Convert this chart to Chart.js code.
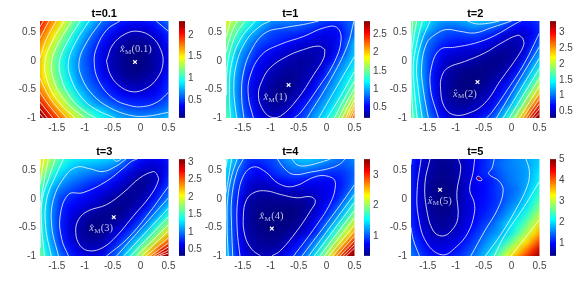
<!DOCTYPE html>
<html><head><meta charset="utf-8">
<script src="https://cdn.jsdelivr.net/npm/chart.js@4"></script>
<style>html,body{margin:0;padding:0;background:#fff;width:580px;height:288px;overflow:hidden;position:relative}canvas{position:absolute}</style>
</head><body>
<script>
const xCells=[-1.85,-1.7,-1.55,-1.4,-1.25,-1.1,-.95,-.8,-.65,-.5,-.35,-.2,-.05,.1,.25,.4,.55];
const yCells=[.75,.6,.45,.3,.15,0,-.15,-.3,-.45,-.6,-.75,-.9,-1.05];
const xTickVals=[-1.5,-1,-.5,0,.5];
const yTickVals=[-1,-.5,0,.5];
const titles=['t=0.1','t=1','t=2','t=3','t=4','t=5'];
const cbarMin=[.09,.22,.30,.32,.33,.39];
const cbarMax=[2.32,2.86,3.35,3.09,3.54,5.03];
const cbarTicks=[[.5,1,1.5,2],[.5,1,1.5,2,2.5],[.5,1,1.5,2,2.5,3],[.5,1,1.5,2,2.5,3],[1,2,3],[1,2,3,4,5]];
const markX=[-.1,-.68,-.61,-.48,-.98,-1.28];
const markY=[-.02,-.42,-.37,-.32,-.52,.16];
const labelText=['(0.1)','(1)','(2)','(3)','(4)','(5)'];
const labelX=[-.37,-1.13,-1.05,-.92,-1.2,-1.5];
const labelY=[.2,-.64,-.58,-.52,-.31,-.04];
const spotX=[-.58], spotY=[.36];

const z01=[
[2.2,1.95,1.75,1.52,1.3,1.1,.92,.77,.63,.54,.47,.43,.41,.43,.47,.57,.7],
[2.05,1.85,1.62,1.4,1.18,.98,.8,.65,.53,.45,.37,.33,.31,.33,.38,.47,.6],
[1.9,1.72,1.5,1.27,1.05,.85,.68,.55,.43,.33,.26,.2,.19,.21,.27,.36,.48],
[1.8,1.6,1.37,1.14,.95,.76,.6,.47,.35,.26,.19,.14,.13,.15,.2,.3,.42],
[1.72,1.5,1.26,1.05,.85,.69,.55,.43,.31,.22,.15,.11,.1,.12,.17,.26,.38],
[1.68,1.43,1.19,.98,.8,.65,.53,.42,.3,.21,.15,.1,.09,.12,.17,.25,.38],
[1.68,1.45,1.2,1.0,.82,.65,.55,.43,.31,.21,.15,.11,.1,.12,.17,.27,.4],
[1.7,1.48,1.23,1.03,.85,.68,.57,.47,.35,.26,.18,.14,.14,.17,.22,.32,.45],
[1.8,1.58,1.35,1.1,.93,.75,.63,.53,.45,.36,.28,.22,.21,.23,.28,.38,.5],
[1.95,1.72,1.48,1.28,1.08,.87,.72,.6,.5,.44,.38,.33,.31,.32,.36,.43,.52],
[2.15,1.9,1.65,1.42,1.2,1.0,.82,.7,.63,.55,.5,.45,.44,.44,.46,.52,.6],
[2.35,2.12,1.84,1.62,1.4,1.22,1.07,.94,.83,.73,.66,.61,.59,.59,.6,.65,.72],
[2.5,2.25,2.05,1.85,1.6,1.38,1.2,1.07,.95,.86,.78,.73,.72,.73,.74,.78,.85]];
const z1=[
[1.95,1.75,1.55,1.38,1.22,1.08,1.0,.96,.94,.9,.86,.82,.78,.74,.74,.78,.86],
[1.8,1.62,1.43,1.25,1.06,.93,.8,.78,.8,.78,.74,.69,.61,.58,.62,.76,.88],
[1.62,1.5,1.3,1.04,.93,.77,.7,.67,.64,.62,.57,.52,.49,.49,.56,.72,.92],
[1.55,1.38,1.14,.93,.75,.69,.64,.59,.53,.47,.44,.41,.41,.46,.6,.83,1.15],
[1.5,1.3,.98,.83,.68,.58,.51,.46,.4,.38,.35,.34,.39,.47,.62,.9,1.12],
[1.45,1.2,.92,.77,.58,.5,.44,.38,.34,.31,.31,.33,.41,.55,.83,1.0,1.17],
[1.45,1.17,.89,.66,.53,.45,.38,.33,.3,.3,.33,.38,.5,.77,.92,1.09,1.3],
[1.45,1.12,.85,.61,.5,.4,.33,.28,.26,.29,.35,.45,.6,.85,1.02,1.2,1.4],
[1.45,1.1,.83,.59,.46,.36,.29,.25,.25,.31,.42,.53,.78,.93,1.1,1.3,1.55],
[1.45,1.1,.83,.6,.43,.33,.27,.24,.28,.38,.5,.63,.85,1.02,1.16,1.42,1.72],
[1.5,1.13,.85,.64,.46,.34,.28,.28,.36,.5,.6,.81,.97,1.1,1.35,1.6,1.95],
[1.55,1.17,.88,.68,.52,.4,.34,.37,.47,.58,.74,.91,1.05,1.2,1.45,1.85,2.35],
[1.62,1.25,.95,.74,.58,.47,.43,.46,.55,.67,.83,1.0,1.15,1.4,1.7,2.2,2.7]];
const z2=[
[2.0,1.75,1.55,1.3,1.22,1.2,1.23,1.28,1.35,1.38,1.35,1.28,1.08,.87,.78,.8,.92],
[1.85,1.62,1.42,1.17,1.04,1.0,1.02,1.08,1.13,1.07,1.0,.9,.78,.68,.68,.73,.85],
[1.72,1.52,1.15,1.02,.93,.87,.85,.87,.87,.82,.75,.62,.53,.5,.52,.68,.85],
[1.68,1.48,1.07,.93,.79,.73,.71,.7,.74,.65,.56,.5,.43,.44,.55,.75,1.1],
[1.65,1.43,1.02,.85,.69,.6,.56,.53,.5,.49,.42,.38,.38,.42,.6,.92,1.2],
[1.65,1.4,1.03,.78,.59,.5,.47,.48,.41,.37,.34,.34,.38,.5,.75,1.1,1.38],
[1.65,1.4,1.04,.72,.55,.44,.38,.34,.33,.32,.34,.38,.48,.68,.97,1.3,1.6],
[1.65,1.41,1.05,.7,.51,.4,.34,.31,.31,.33,.38,.47,.58,.82,1.15,1.5,1.9],
[1.7,1.43,1.07,.71,.48,.38,.32,.3,.32,.37,.45,.6,.74,1.05,1.38,1.75,2.2],
[1.7,1.45,1.08,.72,.49,.38,.33,.32,.35,.43,.55,.7,.88,1.25,1.65,2.1,2.55],
[1.75,1.48,1.1,.77,.56,.43,.38,.38,.44,.52,.62,.82,1.08,1.42,1.9,2.5,3.0],
[1.8,1.52,1.15,.84,.63,.5,.46,.48,.55,.62,.75,1.05,1.38,1.8,2.3,2.95,3.55],
[1.9,1.6,1.25,.95,.73,.6,.57,.6,.68,.82,1.0,1.3,1.65,2.1,2.7,3.3,3.8]];
const z3=[
[2.25,2.0,1.75,1.55,1.42,1.38,1.36,1.33,1.3,1.27,1.2,.92,.78,.68,.65,.68,.78],
[2.1,1.9,1.62,1.42,1.28,1.2,1.18,1.17,1.13,1.1,.95,.78,.65,.57,.55,.6,.72],
[1.95,1.72,1.42,1.25,1.13,1.07,1.02,.98,.95,.85,.7,.58,.5,.46,.48,.58,.76],
[1.78,1.52,1.25,1.1,1.0,.93,.86,.8,.76,.66,.57,.47,.4,.38,.47,.62,.85],
[1.65,1.35,1.08,.95,.86,.8,.73,.66,.6,.53,.47,.4,.37,.42,.58,.75,.95],
[1.62,1.28,1.0,.82,.74,.68,.63,.57,.49,.42,.38,.37,.42,.5,.7,.87,1.1],
[1.6,1.27,.98,.75,.67,.6,.53,.47,.42,.38,.36,.4,.47,.63,.85,1.08,1.3],
[1.6,1.27,.97,.73,.6,.5,.42,.37,.36,.36,.37,.47,.65,.83,1.03,1.3,1.55],
[1.6,1.27,.97,.72,.55,.46,.37,.35,.36,.41,.47,.6,.8,1.0,1.3,1.57,1.85],
[1.62,1.28,.98,.72,.56,.43,.37,.36,.39,.5,.65,.8,1.0,1.25,1.56,1.88,2.2],
[1.68,1.32,1.02,.74,.6,.47,.42,.42,.46,.6,.79,1.0,1.27,1.56,1.88,2.25,2.6],
[1.75,1.38,1.1,.85,.69,.58,.51,.5,.55,.78,.98,1.25,1.55,1.93,2.3,2.75,3.1],
[1.85,1.5,1.2,.97,.78,.66,.6,.6,.7,.88,1.1,1.4,1.75,2.15,2.6,3.05,3.4]];
const z4=[
[1.8,1.45,1.15,.95,.92,.93,.97,1.18,1.28,1.38,1.42,1.38,1.32,1.22,1.12,1.1,1.2],
[1.6,1.35,1.1,.83,.78,.85,.93,1.03,1.15,1.23,1.27,1.2,1.13,1.06,1.0,1.05,1.15],
[1.5,1.2,.95,.8,.7,.73,.85,.92,.98,1.0,.98,.92,.88,.85,.87,.95,1.07],
[1.45,1.12,.87,.65,.57,.58,.65,.74,.77,.77,.73,.7,.7,.72,.8,.93,1.15],
[1.42,1.05,.8,.57,.49,.49,.52,.55,.55,.55,.58,.6,.65,.7,.82,.98,1.3],
[1.42,1.0,.72,.49,.42,.4,.41,.42,.42,.42,.45,.52,.62,.74,.88,1.18,1.55],
[1.42,1.0,.7,.45,.38,.36,.35,.35,.35,.36,.42,.55,.7,.85,1.1,1.43,1.85],
[1.42,1.0,.69,.44,.37,.34,.33,.33,.33,.36,.45,.62,.78,1.02,1.3,1.67,2.1],
[1.42,1.0,.69,.44,.37,.34,.33,.33,.36,.42,.55,.73,.97,1.25,1.62,2.0,2.4],
[1.42,1.0,.7,.46,.39,.35,.35,.36,.42,.5,.65,.82,1.13,1.52,1.92,2.3,2.8],
[1.42,1.02,.72,.5,.42,.39,.38,.43,.55,.71,.87,1.1,1.45,1.83,2.25,2.72,3.25],
[1.45,1.05,.73,.55,.47,.45,.47,.55,.73,.83,1.02,1.35,1.72,2.17,2.68,3.2,3.7],
[1.5,1.1,.8,.62,.55,.53,.58,.68,.85,1.0,1.2,1.55,1.95,2.45,3.0,3.5,4.0]];
const z5=[
[1.3,.95,.72,.55,.48,.52,.62,.76,.92,1.08,1.22,1.37,1.5,1.6,1.7,1.82,1.9],
[1.25,.92,.7,.55,.47,.5,.6,.75,.9,1.1,1.32,1.45,1.55,1.62,1.68,1.82,2.0],
[1.2,.88,.67,.52,.45,.48,.58,.73,.93,1.15,1.2,1.38,1.5,1.58,1.66,1.87,2.15],
[1.2,.87,.6,.49,.43,.45,.56,.73,.95,1.0,1.08,1.3,1.47,1.57,1.68,1.92,2.25],
[1.2,.87,.59,.47,.41,.43,.55,.78,.85,.97,1.12,1.27,1.4,1.5,1.72,2.05,2.4],
[1.2,.87,.6,.47,.41,.43,.58,.75,.92,1.0,1.1,1.25,1.42,1.58,1.87,2.2,2.6],
[1.22,.9,.62,.49,.42,.45,.62,.76,.92,1.03,1.15,1.3,1.55,1.75,2.02,2.4,2.85],
[1.25,.92,.66,.52,.45,.49,.62,.78,.9,1.1,1.22,1.45,1.72,1.98,2.25,2.7,3.1],
[1.3,.98,.71,.56,.5,.55,.68,.85,1.0,1.22,1.4,1.68,1.95,2.2,2.55,3.0,3.45],
[1.35,1.03,.78,.63,.6,.65,.75,.93,1.15,1.35,1.58,1.7,2.0,2.4,2.85,3.35,3.85],
[1.45,1.15,.92,.77,.72,.78,.88,1.08,1.28,1.5,1.75,2.0,2.4,2.85,3.3,3.8,4.3],
[1.55,1.28,1.05,.92,.87,.93,1.05,1.22,1.42,1.67,1.92,2.4,2.9,3.35,3.8,4.3,4.85],
[1.7,1.42,1.18,1.05,1.0,1.07,1.2,1.37,1.58,1.85,2.3,2.8,3.3,3.8,4.3,4.85,5.4]];

const lines01=[
[[-.61,0],[-.5,.28],[-.28,.47],[-.05,.52],[.2,.42],[.36,.2],[.4,-.05],[.3,-.3],[.1,-.48],[-.15,-.54],[-.4,-.42],[-.55,-.22],[-.61,0]],
[[-.37,.7],[-.6,.55],[-.78,.25],[-.83,-.02],[-.75,-.35],[-.5,-.65],[-.2,-.78],[.05,-.8],[.3,-.72],[.5,-.55]],
[[.28,.7],[.5,.52]],
[[-.7,.7],[-.95,.35],[-1.1,0],[-1.05,-.3],[-.85,-.6],[-.55,-.82],[-.2,-.95],[.1,-.97],[.5,-.9]],
[[-.92,.7],[-1.15,.35],[-1.29,0],[-1.25,-.3],[-1.05,-.65],[-.8,-.85],[-.46,-1]],
[[-1.08,.7],[-1.3,.35],[-1.45,0],[-1.42,-.3],[-1.25,-.65],[-.98,-.9],[-.8,-1]],
[[-1.23,.7],[-1.45,.35],[-1.59,0],[-1.55,-.35],[-1.35,-.7],[-1,-1]],
[[-1.37,.7],[-1.58,.35],[-1.71,0],[-1.67,-.35],[-1.48,-.7],[-1.17,-1]],
[[-1.51,.7],[-1.7,.35],[-1.8,.05]],[[-1.8,-.3],[-1.62,-.65],[-1.32,-1]],
[[-1.64,.7],[-1.8,.4]],[[-1.8,-.55],[-1.66,-.75],[-1.45,-1]],
[[-1.74,.7],[-1.8,.6]],[[-1.8,-.72],[-1.57,-1]],
[[-1.8,-.84],[-1.67,-1]],[[-1.8,-.93],[-1.74,-1]]];
const lines1=[
[[-.03,.2],[-.05,.05],[-.23,-.24],[-.53,-.68],[-.83,-.97],[-1.01,-.98],[-1.16,-.82],[-1.22,-.59],[-1.16,-.36],[-1.01,-.12],[-.71,.08],[-.41,.2],[-.14,.26],[-.03,.2]],
[[-1.31,-1],[-1.4,-.62],[-1.37,-.27],[-1.16,.11],[-.83,.29],[-.41,.43],[-.05,.58],[.18,.59],[.26,.37],[.13,-.04],[-.17,-.5],[-.47,-.91],[-.58,-1]],
[[-1.48,-1],[-1.52,-.62],[-1.49,-.21],[-1.34,.2],[-1.1,.49],[-.77,.58],[-.41,.64],[-.14,.7]],
[[.49,.7],[.37,.26],[.07,-.33],[-.35,-1]],
[[-1.61,-1],[-1.66,-.5],[-1.61,-.04],[-1.43,.37],[-1.19,.61],[-1.01,.7]],[[.5,.08],[.19,-.44],[-.14,-1]],
[[-1.72,-1],[-1.74,-.5],[-1.7,-.04],[-1.55,.37],[-1.28,.7]],[[.5,-.18],[.25,-.62],[.01,-1]],
[[-1.79,-.6],[-1.78,-.1],[-1.64,.43],[-1.46,.7]],[[.5,-.35],[.27,-.75],[.14,-1]],
[[-1.8,.15],[-1.7,.5],[-1.6,.7]],[[.5,-.48],[.36,-.72],[.22,-1]],
[[-1.8,.42],[-1.72,.7]],[[.5,-.58],[.38,-.8],[.28,-1]],
[[.5,-.67],[.34,-1]],[[.5,-.75],[.38,-1]],[[.5,-.82],[.42,-1]],[[.5,-.89],[.46,-1]]];
const lines2=[
[[.2,.4],[.22,.29],[.11,.08],[-.19,-.33],[-.48,-.74],[-.78,-.92],[-1.05,-.94],[-1.21,-.79],[-1.27,-.5],[-1.25,-.27],[-1.14,-.12],[-.84,-.01],[-.48,.14],[-.19,.31],[.11,.45],[.2,.4]],
[[-1.31,-1],[-1.45,-.5],[-1.43,-.09],[-1.28,.2],[-1.02,.24],[-.66,.31],[-.31,.44],[.08,.66],[.17,.7]],
[[.5,.49],[.23,-.04],[-.07,-.5],[-.36,-.91],[-.45,-1]],
[[-1.49,-1],[-1.58,-.5],[-1.61,-.09],[-1.52,.31],[-1.37,.46],[-1.17,.55],[-.93,.52],[-.66,.49],[-.37,.58],[0,.7]],
[[.5,.25],[.22,-.2],[-.27,-1]],
[[-.79,.7],[-.63,.65],[-.42,.66],[-.22,.7]],
[[-1.6,-1],[-1.67,-.5],[-1.7,-.09],[-1.62,.31],[-1.46,.7]],[[.5,.05],[-.15,-1]],
[[-1.69,-1],[-1.74,-.5],[-1.76,-.09],[-1.7,.3],[-1.6,.7]],[[.5,-.13],[-.04,-1]],
[[-1.76,-1],[-1.79,-.5],[-1.79,.1],[-1.75,.4],[-1.7,.7]],[[.5,-.3],[.05,-1]],
[[-1.8,.2],[-1.77,.7]],[[.5,-.44],[.14,-1]],
[[.5,-.56],[.2,-1]],[[.5,-.66],[.26,-1]],[[.5,-.75],[.31,-1]],[[.5,-.83],[.36,-1]],[[.5,-.91],[.41,-1]]];
const lines3=[
[[.29,.44],[.32,.33],[.17,.05],[-.13,-.3],[-.43,-.65],[-.67,-.85],[-.91,-.91],[-1.08,-.82],[-1.16,-.59],[-1.11,-.36],[-.94,-.21],[-.61,-.1],[-.31,.11],[-.01,.37],[.23,.48],[.29,.44]],
[[-1.29,-1],[-1.41,-.71],[-1.44,-.3],[-1.29,.08],[-1.03,.11],[-.61,.31],[-.31,.54],[-.16,.66],[-.06,.7]],
[[.5,.22],[.11,-.3],[-.25,-.71],[-.61,-1]],
[[-1.47,-1],[-1.59,-.48],[-1.56,-.01],[-1.35,.4],[-1.14,.56],[-.91,.53],[-.67,.48],[-.43,.58],[-.26,.7]],
[[.5,.02],[-.43,-1]],
[[-1.6,-1],[-1.7,-.48],[-1.68,0],[-1.5,.45],[-1.38,.7]],[[-.49,.7],[-.43,.66],[-.34,.7]],[[.5,-.16],[-.3,-1]],
[[-1.72,-1],[-1.77,-.48],[-1.76,0],[-1.63,.4],[-1.53,.7]],[[.5,-.31],[-.18,-1]],
[[-1.79,-.85],[-1.8,-.2],[-1.72,.35],[-1.65,.7]],[[.5,-.45],[-.07,-1]],
[[-1.8,.25],[-1.73,.7]],[[.5,-.56],[.02,-1]],
[[-1.8,.55],[-1.79,.7]],[[.5,-.68],[.1,-1]],
[[.5,-.77],[.17,-1]],[[.5,-.84],[.23,-1]],[[.5,-.9],[.29,-1]],[[.5,-.95],[.34,-1]]];
const lines4=[
[[-.98,-1],[-.83,-.91],[-.53,-.56],[-.29,-.21],[-.2,-.04],[-.29,.04],[-.53,.02],[-.83,.08],[-1.07,.14],[-1.28,.12],[-1.43,-.01],[-1.49,-.3],[-1.46,-.65],[-1.34,-.88],[-1.18,-1]],
[[-1.55,-1],[-1.6,-.53],[-1.59,-.01],[-1.49,.4],[-1.31,.56],[-1.1,.48],[-.86,.27],[-.59,.22],[-.17,.4],[.1,.37],[.16,.25],[.07,-.07],[-.23,-.53],[-.59,-1]],
[[-1.68,-1],[-1.7,-.48],[-1.7,-.01],[-1.61,.46],[-1.49,.7]],
[[-.88,.7],[-.76,.54],[-.59,.43],[-.29,.47],[.07,.54],[.25,.62],[.33,.7]],
[[.5,.25],[.19,-.18],[-.17,-.65],[-.44,-1]],
[[-.62,.7],[-.53,.6],[-.38,.58],[-.05,.66],[.07,.7]],
[[-1.76,-1],[-1.78,-.48],[-1.77,0],[-1.7,.4],[-1.6,.7]],[[.5,.08],[-.32,-1]],
[[-1.8,.1],[-1.75,.4],[-1.7,.7]],[[.5,-.06],[-.22,-1]],
[[-1.8,.55],[-1.78,.7]],[[.5,-.2],[-.12,-1]],
[[.5,-.33],[-.04,-1]],[[.5,-.46],[.04,-1]],[[.5,-.56],[.11,-1]],[[.5,-.65],[.18,-1]],[[.5,-.73],[.24,-1]],[[.5,-.8],[.3,-1]],[[.5,-.86],[.35,-1]]];
const lines5=[
[[-1.46,.7],[-1.55,.28],[-1.52,-.18],[-1.4,-.56],[-1.24,-.65],[-1.08,-.56],[-.96,-.33],[-.98,.11],[-.91,.54],[-.95,.7]],
[[-1.62,.7],[-1.69,.16],[-1.67,-.3],[-1.52,-.77],[-1.24,-.98],[-.99,-.84],[-.78,-.59],[-.67,-.27],[-.67,-.06],[-.75,.16],[-.69,.46],[-.66,.7]],
[[-1.79,.7],[-1.8,.6]],[[-1.8,-.5],[-1.76,-.71],[-1.65,-1]],
[[-.31,.7],[-.35,.54],[-.41,.44],[-.22,.31],[-.15,.14],[-.25,-.18],[-.48,-.56],[-.73,-1]],
[[.26,.7],[.32,.48],[.28,.22],[.08,-.18],[-.19,-.62],[-.47,-1]],
[[.5,.31],[.23,-.13],[-.13,-.65],[-.31,-1]],
[[.5,-.36],[-.01,-1]],
[[-.63,.37],[-.6,.4],[-.55,.37],[-.53,.33],[-.57,.32],[-.62,.34],[-.63,.37]]];

const zGrids=[z01,z1,z2,z3,z4,z5];
const lineSets=[lines01,lines1,lines2,lines3,lines4,lines5];
const canvasLeft=[0,186,371,0,186,371];
const canvasTop=[0,0,0,138,138,138];
const barLeft=[179,364,550,179,364,550];

function jet(t){
  t=Math.max(0,Math.min(1,t));
  const f=(a)=>Math.round(255*Math.max(0,Math.min(1,1.5-Math.abs(4*t-a))));
  return `rgb(${f(3)},${f(2)},${f(1)})`;
}
function mk(left,top,w,h){
  const c=document.createElement('canvas');
  c.width=w;c.height=h;
  c.style.cssText=`left:${left}px;top:${top}px;width:${w}px;height:${h}px`;
  document.body.appendChild(c);return c;
}
const FONT='"Liberation Sans"';
const INK='#444';

const heatBlur={id:'heatBlur',
  beforeDatasetDraw(chart,args){
    if(args.meta.type!=='bar')return;
    const cv=chart.canvas;
    const u=document.createElement('canvas');u.width=cv.width;u.height=cv.height;
    u.getContext('2d').drawImage(cv,0,0);
    chart.$under=u;
    chart.ctx.clearRect(0,0,cv.width,cv.height);
  },
  afterDatasetDraw(chart,args){
    if(args.meta.type!=='bar')return;
    const cv=chart.canvas,ctx=chart.ctx,a=chart.chartArea;
    const b=document.createElement('canvas');b.width=cv.width;b.height=cv.height;
    const bc=b.getContext('2d');bc.filter='blur(3.2px)';bc.drawImage(cv,0,0);
    ctx.save();
    ctx.clearRect(0,0,cv.width,cv.height);
    ctx.drawImage(chart.$under,0,0);
    ctx.beginPath();ctx.rect(a.left,a.top,a.right-a.left,a.bottom-a.top);ctx.clip();
    ctx.drawImage(b,0,0);
    ctx.restore();
  }
};
const markLabel={id:'markLabel',
  afterDatasetsDraw(chart,_a,o){
    const ctx=chart.ctx;
    let x=chart.scales.x.getPixelForValue(o.x);
    const y=chart.scales.y.getPixelForValue(o.y);
    ctx.save();
    ctx.fillStyle='rgba(228,232,245,.82)';
    ctx.textBaseline='middle';ctx.textAlign='left';
    ctx.font='italic 10.5px "Liberation Serif"';
    ctx.fillText('x\u0302',x,y);x+=ctx.measureText('x').width+.4;
    ctx.font='7px "Liberation Serif"';
    ctx.fillText('M',x,y+2.2);x+=ctx.measureText('M').width+.4;
    ctx.font='10.5px "Liberation Serif"';
    ctx.fillText(o.text,x,y);
    ctx.restore();
  }
};

titles.forEach((title,p)=>{
  const z=zGrids[p],mn=cbarMin[p],mx=cbarMax[p];
  const cells=[],colors=[];
  const hy=(yCells[0]-yCells[1])/2;
  z.forEach((row,r)=>row.forEach((v,c)=>{
    cells.push({x:xCells[c],y:[yCells[r]-hy,yCells[r]+hy]});
    colors.push(jet((v-mn)/(mx-mn)));
  }));
  const datasets=[];
  datasets.push({type:'scatter',data:[{x:markX[p],y:markY[p]}],pointStyle:'crossRot',pointRadius:2.6,
    pointBorderColor:'#fff',pointBackgroundColor:'#fff',pointBorderWidth:1.2,order:0,showLine:false});
  if(p===5)datasets.push({type:'scatter',data:[{x:spotX[0],y:spotY[0]}],pointStyle:'circle',pointRadius:1.2,
    pointBorderWidth:0,pointBackgroundColor:'#b00000',order:1,showLine:false});
  lineSets[p].forEach(l=>datasets.push({type:'scatter',showLine:true,data:l.map(q=>({x:q[0],y:q[1]})),
    borderColor:'rgba(255,255,255,.78)',borderWidth:1,tension:.4,pointRadius:0,order:2}));
  datasets.push({type:'bar',data:cells,backgroundColor:colors,borderWidth:0,barPercentage:1,categoryPercentage:1,
    grouped:false,order:10,clip:false});
  new Chart(mk(canvasLeft[p],canvasTop[p],180,140),{
    type:'bar',
    data:{datasets},
    options:{responsive:false,animation:false,events:[],
      layout:{padding:{left:0,right:11.5,top:0,bottom:0}},
      plugins:{legend:{display:false},tooltip:{enabled:false},
        title:{display:true,text:title,fullSize:false,color:'#000',font:{family:FONT,size:11,weight:'bold',lineHeight:1.2},padding:{top:7.8,bottom:0}},
        markLabel:{x:labelX[p],y:labelY[p],text:labelText[p]}},
      scales:{
        x:{type:'linear',min:-1.8,max:.5,offset:false,grid:{display:false,drawTicks:false},border:{display:false},
          afterBuildTicks:s=>{s.ticks=xTickVals.map(v=>({value:v}));},
          afterFit:s=>{s.height=22;s.paddingLeft=0;s.paddingRight=0;},
          ticks:{autoSkip:false,maxRotation:0,color:INK,padding:4,font:{family:FONT,size:10},callback:v=>String(v)}},
        y:{type:'linear',min:-1,max:.7,grid:{display:false,drawTicks:false},border:{display:false},
          afterBuildTicks:s=>{s.ticks=yTickVals.map(v=>({value:v}));},
          afterFit:s=>{s.width=40;s.paddingTop=0;s.paddingBottom=0;},
          ticks:{autoSkip:false,color:INK,padding:4,font:{family:FONT,size:10},callback:v=>String(v)}}
      }
    },
    plugins:[heatBlur,markLabel]
  });
  new Chart(mk(barLeft[p],canvasTop[p],34,140),{
    type:'bar',
    data:{labels:[''],datasets:[{data:[[mn,mx]],barPercentage:1,categoryPercentage:1,borderSkipped:false,
      borderColor:'rgba(110,110,110,.7)',borderWidth:{top:.7,bottom:.7,left:0,right:0},
      backgroundColor:ctx=>{
        const a=ctx.chart.chartArea;if(!a)return '#00f';
        const g=ctx.chart.ctx.createLinearGradient(0,a.bottom,0,a.top);
        for(let i=0;i<=16;i++)g.addColorStop(i/16,jet(i/16));
        return g;
      }}]},
    options:{responsive:false,animation:false,events:[],
      layout:{padding:{left:0,right:0,top:21,bottom:22}},
      plugins:{legend:{display:false},tooltip:{enabled:false}},
      scales:{
        x:{display:false},
        y:{position:'right',min:mn,max:mx,grid:{display:false,drawTicks:false},border:{display:false},
          afterBuildTicks:s=>{s.ticks=cbarTicks[p].map(v=>({value:v}));},
          afterFit:s=>{s.width=28;s.paddingTop=0;s.paddingBottom=0;},
          ticks:{autoSkip:false,color:INK,padding:3,font:{family:FONT,size:10},callback:v=>String(v)}}
      }
    }
  });
});
</script>
</body></html>
